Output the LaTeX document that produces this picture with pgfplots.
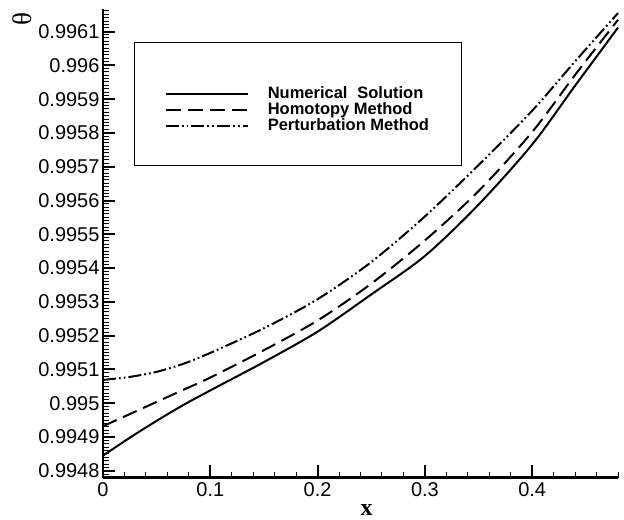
\documentclass[border=0pt]{standalone}
\usepackage{pgfplots}
\pgfplotsset{compat=1.18}
\usepackage{fontspec}
\setmainfont{Liberation Sans}
\newfontfamily\serifgr{Liberation Serif}

\begin{document}
\begin{tikzpicture}
\begin{axis}[
  scale only axis,
  width=515.5pt, height=469pt,
  xmin=0, xmax=0.48,
  ymin=0.99478, ymax=0.996167,
  axis lines*=left,
  axis line style={line width=2.4pt, black},
  tick align=inside,
  xtick={0,0.1,0.2,0.3,0.4},
  xticklabels={0,0.1,0.2,0.3,0.4},
  minor xtick={0.02,0.04,0.06,0.08,0.12,0.14,0.16,0.18,0.22,0.24,0.26,0.28,0.32,0.34,0.36,0.38,0.42,0.44,0.46,0.48},
  ytick={0.9948,0.9949,0.995,0.9951,0.9952,0.9953,0.9954,0.9955,0.9956,0.9957,0.9958,0.9959,0.996,0.9961},
  yticklabels={0.9948,0.9949,0.995,0.9951,0.9952,0.9953,0.9954,0.9955,0.9956,0.9957,0.9958,0.9959,0.996,0.9961},
  minor ytick={0.99479,0.9948,...,0.99616},
  major tick length=12.5pt,
  minor tick length=6pt,
  major tick style={line width=2pt, black},
  minor tick style={line width=1pt, black},
  scaled y ticks=false,
  tick label style={font=\fontsize{20}{22}\selectfont},
  xticklabel style={font=\fontsize{20}{22}\selectfont, yshift=-1pt},
  yticklabel style={font=\fontsize{20}{22}\selectfont, xshift=0pt},
  xlabel={\serifgr\bfseries x},
  xlabel style={font=\fontsize{24}{24}\selectfont, at={(rel axis cs:0.512,0)}, anchor=center, yshift=-32pt},
  ylabel={\serifgr θ},
  ylabel style={font=\fontsize{27}{27}\selectfont, at={(rel axis cs:-0.157,0.979)}, anchor=center},
  legend cell align=left,
  legend style={
    draw=none, fill=none,
    at={(rel axis cs:0.114,0.789)}, anchor=west, yshift=-2pt,
    font=\fontsize{16.5}{17}\selectfont\bfseries,
    nodes={inner sep=0pt, text height=12.5pt, text depth=3.7pt},
    row sep=0pt, column sep=19pt,
  },
  legend image code/.code={\draw[#1] (0pt,0pt) -- (82pt,0pt);},
  clip=false,
]

% numerical solution
\addplot[black, line width=2pt, smooth] coordinates {
  (0,0.994845) (0.025,0.994898) (0.05,0.994948) (0.075,0.994995)
  (0.1,0.995038) (0.15,0.995122) (0.2,0.995212) (0.25,0.995322)
  (0.3,0.995436) (0.35,0.995588) (0.4,0.995766) (0.44,0.995940)
  (0.48,0.996112)
};
\addlegendentry{Numerical\hspace{0.6em}Solution}

% homotopy analysis
\addplot[black, line width=2pt, smooth, dash pattern=on 15pt off 7pt] coordinates {
  (0,0.994932) (0.025,0.994968) (0.05,0.995004) (0.075,0.995040)
  (0.1,0.995076) (0.15,0.995157) (0.2,0.995245) (0.25,0.995354)
  (0.3,0.995482) (0.35,0.995628) (0.4,0.995803) (0.44,0.995972)
  (0.48,0.996135)
};
\addlegendentry{Homotopy Method}

% perturbation method
\addplot[black, line width=2pt, smooth,
  dash pattern=on 13pt off 3pt on 1.8pt off 3pt on 1.8pt off 3pt] coordinates {
  (0,0.995069) (0.025,0.995078) (0.05,0.995093) (0.075,0.995117)
  (0.1,0.995149) (0.15,0.995222) (0.2,0.995308) (0.25,0.995418)
  (0.3,0.995553) (0.35,0.995705) (0.4,0.995866) (0.44,0.996012)
  (0.48,0.996155)
};
\addlegendentry{Perturbation Method}

% frame around the legend
\draw[line width=1pt, black] (rel axis cs:0.0621,0.667) rectangle (rel axis cs:0.697,0.9275);

\coordinate (bbsw) at (rel axis cs:-0.2,-0.0896);
\coordinate (bbne) at (rel axis cs:1.0116,1.0192);
\end{axis}
\pgfresetboundingbox
\path[use as bounding box] (bbsw) rectangle (bbne);
\end{tikzpicture}
\end{document}
